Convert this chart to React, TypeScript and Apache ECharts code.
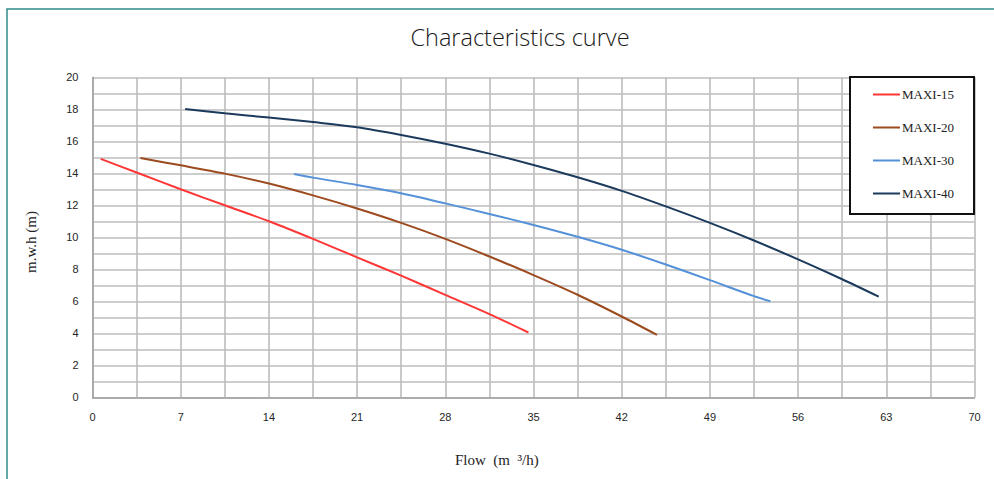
import React, { useEffect, useRef } from "react";
import * as echarts from "echarts";

const seriesNames = ["MAXI-15", "MAXI-20", "MAXI-30", "MAXI-40"];
const seriesColors = ["#FF3636", "#9C4A1E", "#5591D8", "#1B3A5C"];

const maxi15Flow = [0.65, 3.5, 7, 10.5, 14, 17.5, 21, 24.5, 28, 31.5, 34.6];
const maxi15Head = [14.9, 14.05, 13.0, 12.0, 11.0, 9.9, 8.75, 7.6, 6.4, 5.2, 4.05];

const maxi20Flow = [3.8, 7, 10.5, 14, 17.5, 21, 24.5, 28, 31.5, 35, 38.5, 42, 44.8];
const maxi20Head = [14.95, 14.5, 13.98, 13.36, 12.62, 11.8, 10.9, 9.9, 8.8, 7.64, 6.41, 5.05, 3.9];

const maxi30Flow = [16, 17.5, 21, 24.5, 28, 31.5, 35, 38.5, 42, 45.5, 49, 52.5, 53.8];
const maxi30Head = [13.95, 13.73, 13.27, 12.75, 12.12, 11.46, 10.77, 10.03, 9.22, 8.3, 7.32, 6.32, 6.0];

const maxi40Flow = [7.35, 10.5, 14, 17.5, 21, 24.5, 28, 31.5, 35, 38.5, 42, 45.5, 49, 52.5, 56, 59.5, 62.4];
const maxi40Head = [18.02, 17.75, 17.48, 17.2, 16.88, 16.4, 15.85, 15.23, 14.52, 13.75, 12.9, 11.93, 10.9, 9.8, 8.62, 7.38, 6.29];

const flows = [maxi15Flow, maxi20Flow, maxi30Flow, maxi40Flow];
const heads = [maxi15Head, maxi20Head, maxi30Head, maxi40Head];

const titleText = "Characteristics curve";
const xAxisName = "Flow  (m  \u00B3/h)";
const yAxisName = "m.w.h (m)";

export default function App() {
  const ref = useRef<HTMLDivElement>(null);

  useEffect(() => {
    if (!ref.current) return;
    const chart = echarts.init(ref.current, null, { renderer: "svg" });
    const gridColor = "#bcbcbc";
    const labelFont = "'Liberation Sans', Arial, sans-serif";
    const serif = "'Liberation Serif', 'Times New Roman', serif";

    chart.setOption({
      animation: false,
      backgroundColor: "#ffffff",
      title: {
        text: titleText,
        left: 515,
        top: 20,
        textAlign: "center",
        textStyle: {
          fontFamily: "'Open Sans', sans-serif",
          fontWeight: 300,
          fontSize: 23.5,
          color: "#1a1a1a",
        },
      },
      graphic: [
        {
          type: "rect",
          shape: { x: 7, y: 9, width: 1000, height: 500 },
          style: { fill: "none", stroke: "#2F8C8C", lineWidth: 1.5 },
          silent: true,
          z: 100,
        },
        {
          type: "text",
          x: 455,
          y: 460,
          style: {
            text: xAxisName,
            fontFamily: serif,
            fontSize: 15,
            fill: "#222222",
            textAlign: "left",
            textVerticalAlign: "middle",
          },
          silent: true,
        },
        {
          type: "text",
          x: 31,
          y: 242,
          rotation: Math.PI / 2,
          style: {
            text: yAxisName,
            fontFamily: serif,
            fontSize: 15,
            fill: "#222222",
            textAlign: "center",
            textVerticalAlign: "middle",
          },
          silent: true,
        },
      ],
      legend: {
        orient: "vertical",
        left: 850,
        top: 77,
        width: 126,
        padding: [11, 20, 14, 23],
        itemGap: 20,
        itemWidth: 27,
        itemHeight: 12,
        backgroundColor: "#ffffff",
        borderColor: "#111111",
        borderWidth: 2,
        textStyle: { fontFamily: serif, fontSize: 13, color: "#222222", padding: [0, 0, 0, -3] },
        data: seriesNames,
        icon: "path://M0,5 L27,5 L27,7 L0,7 Z",
      },
      grid: {
        left: 92.5,
        right: 19.5,
        top: 77.3,
        bottom: 81.7,
        containLabel: false,
      },
      xAxis: {
        type: "value",
        min: 0,
        max: 70,
        interval: 7,
        axisLine: { show: true, lineStyle: { color: "#a0a0a0", width: 1.5 } },
        axisTick: { show: false },
        axisLabel: { margin: 14, fontFamily: labelFont, fontSize: 11, color: "#262626" },
        splitLine: { show: true, lineStyle: { color: gridColor, width: 1.6 } },
        minorTick: { show: false, splitNumber: 2 },
        minorSplitLine: { show: true, lineStyle: { color: gridColor, width: 1.6 } },
      },
      yAxis: {
        type: "value",
        min: 0,
        max: 20,
        interval: 2,
        axisLine: { show: true, lineStyle: { color: "#a0a0a0", width: 1.5 } },
        axisTick: { show: false },
        axisLabel: { margin: 14, fontFamily: labelFont, fontSize: 11, color: "#262626" },
        splitLine: { show: true, lineStyle: { color: gridColor, width: 1.6 } },
        minorTick: { show: false, splitNumber: 2 },
        minorSplitLine: { show: true, lineStyle: { color: gridColor, width: 1.6 } },
      },
      series: seriesNames.map((name, i) => ({
        name,
        type: "line",
        data: flows[i].map((f, j) => [f, heads[i][j]]),
        smooth: 0.3,
        symbol: "none",
        showSymbol: false,
        color: seriesColors[i],
        lineStyle: { color: seriesColors[i], width: 2 },
        z: 3,
      })),
    });

    return () => chart.dispose();
  }, []);

  return (
    <div
      ref={ref}
      style={{ position: "fixed", left: 0, top: 0, width: 994, height: 479 }}
    />
  );
}
